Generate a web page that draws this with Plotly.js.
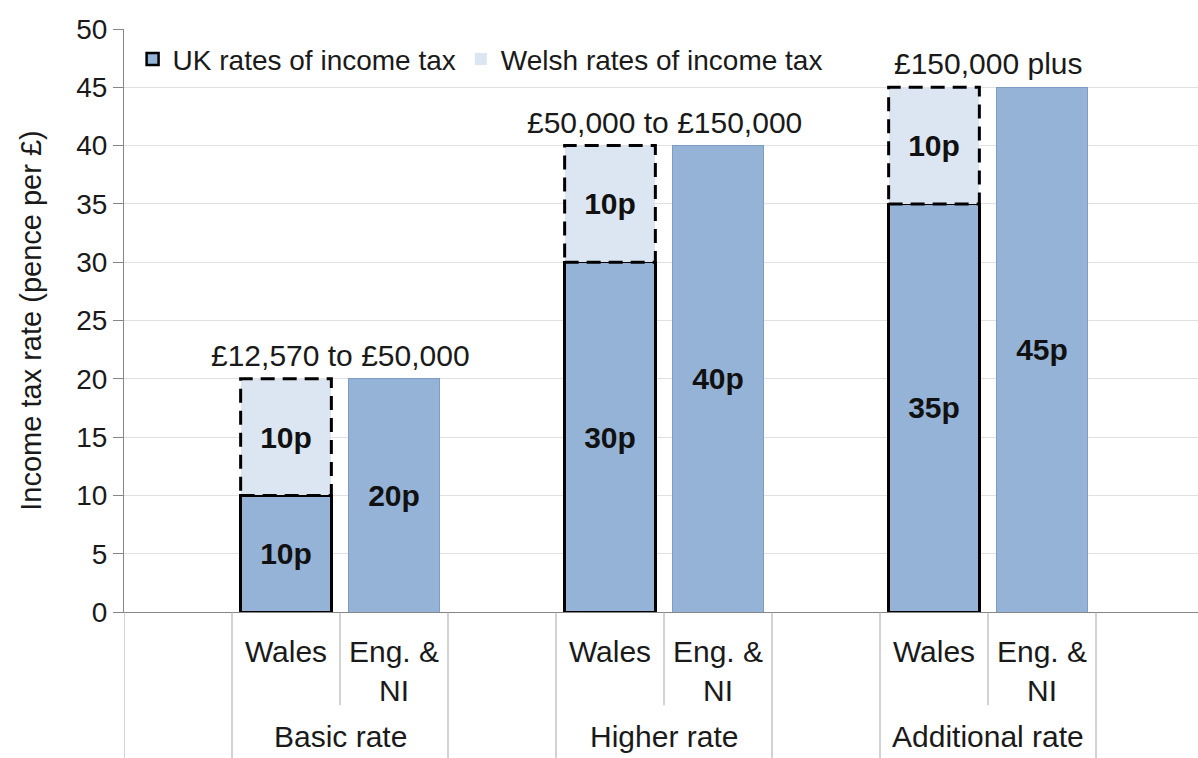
<!DOCTYPE html>
<html>
<head>
<meta charset="utf-8">
<script src="https://cdn.plot.ly/plotly-3.0.1.min.js"></script>
<style>
  html, body { margin: 0; padding: 0; background: #fff; }
  #chart { width: 1198px; height: 758px; }
</style>
</head>
<body>
<div id="chart"></div>
<script>
// tax bands
const groups = ["Basic rate", "Higher rate", "Additional rate"];
const bands = ["£12,570 to £50,000", "£50,000 to £150,000", "£150,000 plus"];
const regions = ["Wales", "Eng. &<br>NI"];

// pence per £
const ukWales = [10, 30, 35];
const welshWales = [10, 10, 10];
const ukEngNI = [20, 40, 45];

const FONT = "Liberation Sans, Arial, sans-serif";
const UK_BLUE = "#95b3d7";
const WELSH_BLUE = "#dce6f2";
const HALF = 0.42;   // half bar width in category units

// category slots: gap, Wales, Eng, gap, Wales, Eng, ... gap
const slots = [];
const walesIds = [];
const engIds = [];
groups.forEach((g, i) => {
    slots.push("gap" + i);
    walesIds.push(g + "|W");
    engIds.push(g + "|E");
    slots.push(g + "|W", g + "|E");
});
slots.push("gap" + groups.length);

const walesIdx = walesIds.map(id => slots.indexOf(id));

const ukX = [], ukY = [], ukLineColor = [], ukLineWidth = [];
groups.forEach((g, i) => {
    ukX.push(walesIds[i], engIds[i]);
    ukY.push(ukWales[i], ukEngNI[i]);
    ukLineColor.push("#000000", "#7f9dc4");
    ukLineWidth.push(2.5, 1);
});

const barText = {
    texttemplate: "%{y}p",
    textposition: "inside",
    insidetextanchor: "middle",
    textangle: 0,
    textfont: { family: FONT, size: 30, color: "#111111", weight: "bold" },
    constraintext: "none",
    hoverinfo: "skip"
};

const traces = [
    Object.assign({
        name: "UK rates of income tax",
        type: "bar",
        x: ukX,
        y: ukY,
        width: 2 * HALF,
        marker: { color: UK_BLUE, line: { color: ukLineColor, width: ukLineWidth } }
    }, barText),
    Object.assign({
        name: "Welsh rates of income tax",
        type: "bar",
        x: walesIds,
        y: welshWales,
        width: 2 * HALF,
        marker: { color: WELSH_BLUE, line: { width: 0 } }
    }, barText)
];

const shapes = [];
// dashed outline around the Welsh part of each Wales bar
walesIdx.forEach((xi, i) => {
    shapes.push({
        type: "rect", xref: "x", yref: "y", layer: "above",
        x0: xi - HALF, x1: xi + HALF,
        y0: ukWales[i], y1: ukWales[i] + welshWales[i],
        line: { color: "#000000", width: 3, dash: "14px,8px" }
    });
});

function vDivider(x, y1) {
    return {
        type: "line", xref: "x", yref: "paper",
        x0: x, x1: x, y0: 0, y1: y1,
        line: { color: "#a6a6a6", width: 1 }
    };
}

// category dividers below the axis
shapes.push(vDivider(-0.5, -0.26));
walesIdx.forEach(xi => {
    shapes.push(vDivider(xi - 0.5, -0.26));
    shapes.push(vDivider(xi + 0.5, -0.16));
    shapes.push(vDivider(xi + 1.5, -0.26));
});

const annotations = [];
groups.forEach((g, i) => {
    const mid = walesIdx[i] + 0.5;
    annotations.push({
        x: mid, xref: "x", y: -0.214, yref: "paper",
        text: g, showarrow: false, yanchor: "middle",
        font: { family: FONT, size: 30, color: "#1a1a1a" }
    });
    annotations.push({
        x: mid, xref: "x",
        y: Math.max(ukWales[i] + welshWales[i], ukEngNI[i]), yref: "y",
        text: bands[i], showarrow: false, yanchor: "bottom", yshift: 5,
        font: { family: FONT, size: 30, color: "#1a1a1a" }
    });
});

const layout = {
    width: 1198,
    height: 758,
    margin: { l: 124, r: 0, t: 29, b: 146 },
    paper_bgcolor: "#ffffff",
    plot_bgcolor: "#ffffff",
    barmode: "stack",
    showlegend: true,
    legend: {
        orientation: "h",
        x: 0.008, xanchor: "left",
        y: 0.948, yanchor: "middle",
        traceorder: "normal",
        bgcolor: "rgba(255,255,255,0)",
        font: { family: FONT, size: 28, color: "#1a1a1a" },
        itemwidth: 30
    },
    xaxis: {
        type: "category",
        categoryorder: "array",
        categoryarray: slots,
        range: [-0.5, -0.5 + 1074 / 108],
        tickvals: walesIds.concat(engIds),
        ticktext: walesIds.map(() => regions[0]).concat(engIds.map(() => regions[1])),
        ticks: "",
        ticklabelstandoff: 13,
        showline: true,
        linecolor: "#868686",
        linewidth: 1,
        showgrid: false,
        zeroline: false,
        tickfont: { family: FONT, size: 30, color: "#1a1a1a" }
    },
    yaxis: {
        range: [0, 50],
        dtick: 5,
        ticks: "outside",
        ticklen: 10,
        tickcolor: "#868686",
        showline: true,
        linecolor: "#868686",
        linewidth: 1,
        gridcolor: "#e0e0e0",
        zeroline: false,
        tickfont: { family: FONT, size: 28, color: "#1a1a1a" },
        title: {
            text: "Income tax rate (pence per £)",
            standoff: 26,
            font: { family: FONT, size: 29, color: "#1a1a1a" }
        }
    },
    shapes: shapes,
    annotations: annotations
};

Plotly.newPlot("chart", traces, layout, { displayModeBar: false, staticPlot: true });
</script>
</body>
</html>
